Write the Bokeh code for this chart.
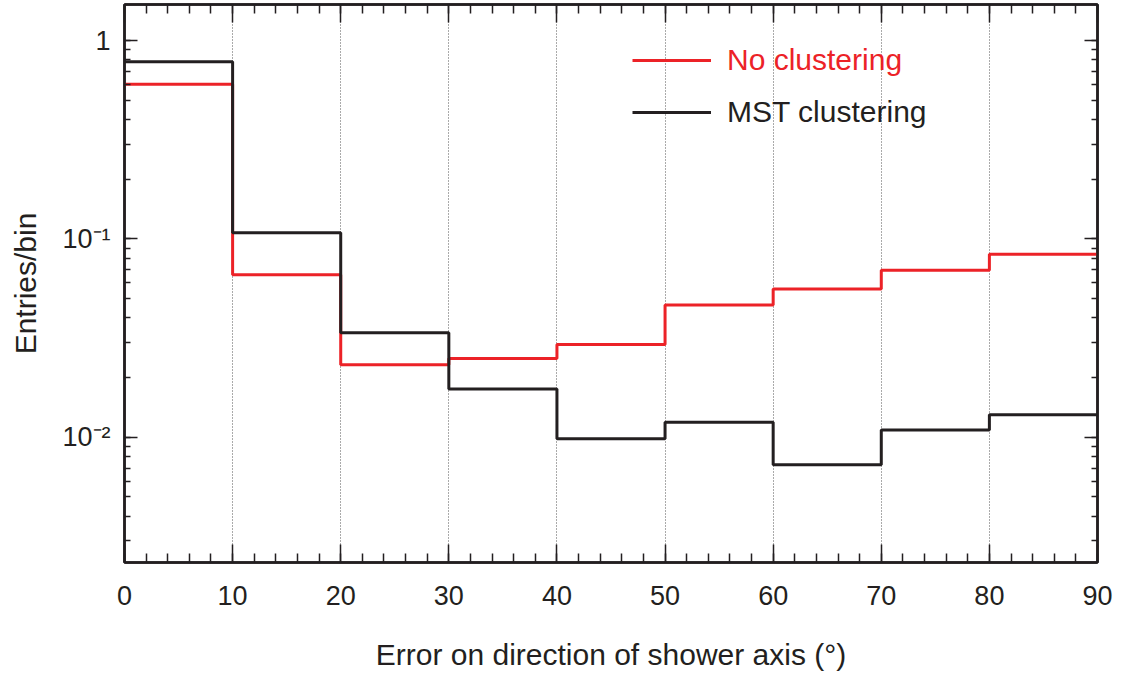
from bokeh.plotting import figure
from bokeh.models import (LinearAxis, LogAxis, Legend, LegendItem, FixedTicker,
                          Range1d, LogTicker, CustomJSTickFormatter)
from bokeh.embed import file_html
from bokeh.resources import INLINE

# ---- data ----
bin_edges = [0, 10, 20, 30, 40, 50, 60, 70, 80, 90]
no_clustering = [0.603, 0.066, 0.0232, 0.0250, 0.0294, 0.0465, 0.0560, 0.0695, 0.0837]
mst_clustering = [0.784, 0.1076, 0.0337, 0.0175, 0.00984, 0.0119, 0.00727, 0.0109, 0.0130]
x_ticks = [0, 10, 20, 30, 40, 50, 60, 70, 80, 90]
y_tick_labels = {0.01: "10⁻²", 0.1: "10⁻¹", 1: "1"}
series_names = ["No clustering", "MST clustering"]
x_title = "Error on direction of shower axis (°)"
y_title = "Entries/bin"

RED = "#ec2227"
BLACK = "#231f20"
FONT = "Liberation Sans"

p = figure(frame_width=973, frame_height=558,
           y_axis_type="log", output_backend="svg", toolbar_location=None,
           x_range=Range1d(0, 90), y_range=Range1d(0.002337, 1.522),
           min_border_left=124, min_border_top=4, min_border_right=18,
           min_border_bottom=4)
p.background_fill_color = "white"
p.border_fill_color = "white"
p.outline_line_color = BLACK
p.outline_line_width = 2.5

# step lines
r_red = p.step(x=bin_edges, y=no_clustering + [no_clustering[-1]], mode="after",
               line_color=RED, line_width=3)
r_blk = p.step(x=bin_edges, y=mst_clustering + [mst_clustering[-1]], mode="after",
               line_color=BLACK, line_width=3)

# grid
p.ygrid.visible = False
p.xgrid.ticker = FixedTicker(ticks=x_ticks[1:-1])
p.xgrid.grid_line_color = "#555555"
p.xgrid.grid_line_dash = "1 2"
p.xgrid.grid_line_width = 1


def style_x(ax, labels=True):
    ax.ticker = FixedTicker(ticks=x_ticks, minor_ticks=list(range(0, 91, 2)))
    ax.major_tick_in = 18
    ax.major_tick_out = 0
    ax.minor_tick_in = 9
    ax.minor_tick_out = 0
    ax.major_tick_line_color = BLACK
    ax.minor_tick_line_color = BLACK
    ax.major_tick_line_width = 1.5
    ax.minor_tick_line_width = 1.5
    ax.axis_line_color = BLACK
    ax.axis_line_width = 2.5
    if labels:
        ax.major_label_text_font = FONT
        ax.major_label_text_font_size = "27px"
        ax.major_label_text_color = BLACK
        ax.major_label_standoff = 23
    else:
        ax.formatter = CustomJSTickFormatter(code="return ''")
        ax.major_label_standoff = 0


def style_y(ax, labels=True):
    ax.ticker = LogTicker(num_minor_ticks=10)
    ax.major_tick_in = 13
    ax.major_tick_out = 0
    ax.minor_tick_in = 6
    ax.minor_tick_out = 0
    ax.major_tick_line_color = BLACK
    ax.minor_tick_line_color = BLACK
    ax.major_tick_line_width = 1.5
    ax.minor_tick_line_width = 1.5
    ax.axis_line_color = BLACK
    ax.axis_line_width = 2.5
    if labels:
        ax.major_label_overrides = y_tick_labels
        ax.major_label_text_font = FONT
        ax.major_label_text_font_size = "27px"
        ax.major_label_text_color = BLACK
        ax.major_label_standoff = 14
    else:
        ax.formatter = CustomJSTickFormatter(code="return ''")
        ax.major_label_standoff = 0


xb = p.xaxis[0]
style_x(xb)
xb.axis_label = x_title
xb.axis_label_text_font = FONT
xb.axis_label_text_font_size = "30px"
xb.axis_label_text_font_style = "normal"
xb.axis_label_text_color = BLACK
xb.axis_label_standoff = 30

yl = p.yaxis[0]
style_y(yl)
yl.axis_label = y_title
yl.axis_label_text_font = FONT
yl.axis_label_text_font_size = "30px"
yl.axis_label_text_font_style = "normal"
yl.axis_label_text_color = BLACK
yl.axis_label_standoff = 17

xt = LinearAxis()
style_x(xt, labels=False)
p.add_layout(xt, "above")
yr = LogAxis()
style_y(yr, labels=False)
p.add_layout(yr, "right")

# legends (one per entry so text colors differ)
for name, rend, col, loc in [(series_names[0], r_red, RED, (508, 485)),
                             (series_names[1], r_blk, BLACK, (508, 433))]:
    lg = Legend(items=[LegendItem(label=name, renderers=[rend])], location=loc,
                glyph_width=79, glyph_height=30, label_height=30, label_standoff=16,
                padding=0, spacing=0, border_line_color=None,
                background_fill_alpha=0, label_text_font=FONT,
                label_text_font_size="30px", label_text_color=col)
    p.add_layout(lg)

open("out.html", "w").write(file_html(p, INLINE))
